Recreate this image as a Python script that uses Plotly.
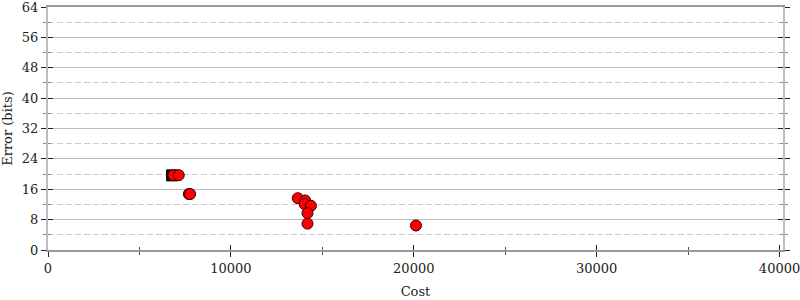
import plotly.graph_objects as go

# Data
square_cost = [6785]
square_err = [19.65]

circle_cost = [6860, 7150, 7700, 7770, 13660, 14060, 14030, 14375, 14190, 14190, 20120]
circle_err = [19.7, 19.7, 14.75, 14.75, 13.65, 13.05, 12.1, 11.65, 9.7, 6.95, 6.45]

x_ticks = [0, 10000, 20000, 30000, 40000]
y_ticks = [0, 8, 16, 24, 32, 40, 48, 56, 64]

FONT = "DejaVu Serif"
XR = [0, 40190]
YR = [0, 64]

fig = go.Figure()

fig.add_trace(go.Scatter(
    x=square_cost, y=square_err, mode="markers",
    marker=dict(symbol="square", size=11, color="#111111",
                line=dict(color="#000000", width=1)),
    showlegend=False, hoverinfo="skip"))

fig.add_trace(go.Scatter(
    x=circle_cost, y=circle_err, mode="markers",
    marker=dict(symbol="circle", size=11, color="#ff0000",
                line=dict(color="#330000", width=1)),
    showlegend=False, hoverinfo="skip"))

# invisible trace on overlay axes to carry inside ticks
fig.add_trace(go.Scatter(x=[None], y=[None], xaxis="x2", yaxis="y2",
                         showlegend=False, hoverinfo="skip"))

fig.update_layout(
    width=800, height=300,
    margin=dict(l=48, r=17, t=7, b=50, autoexpand=False),
    paper_bgcolor="white", plot_bgcolor="white",
    font=dict(family=FONT, size=13, color="#222222"),
    xaxis=dict(
        range=XR, tickvals=x_ticks, ticktext=[str(v) for v in x_ticks],
        showgrid=False, zeroline=False, automargin=False,
        ticklabeloverflow="allow",
        showline=True, linecolor="#9a9a9a", linewidth=2, mirror=True,
        ticks="outside", ticklen=5, tickwidth=1, tickcolor="#222222",
        minor=dict(tickvals=[5000, 15000, 25000, 35000], ticks="outside",
                   ticklen=3, tickcolor="#555555", showgrid=False),
        title=dict(text="Cost", font=dict(family=FONT, size=13), standoff=12),
        tickfont=dict(family=FONT, size=13),
    ),
    yaxis=dict(
        range=YR, tickvals=y_ticks, ticktext=[str(v) for v in y_ticks],
        showgrid=True, gridcolor="#bdbdbd", gridwidth=1, zeroline=False,
        automargin=False, ticklabeloverflow="allow",
        showline=True, linecolor="#bdbdbd", linewidth=2, mirror="ticks",
        ticks="outside", ticklen=5, tickwidth=1, tickcolor="#222222",
        minor=dict(tickvals=[4, 12, 20, 28, 36, 44, 52, 60], ticks="outside",
                   ticklen=3, tickcolor="#888888", showgrid=True,
                   gridcolor="#cccccc", griddash="6px,3px", gridwidth=1),
        title=dict(text="Error (bits)", font=dict(family=FONT, size=13), standoff=6),
        tickfont=dict(family=FONT, size=13),
    ),
    xaxis2=dict(
        overlaying="x", range=XR, tickvals=x_ticks, showticklabels=False,
        showgrid=False, zeroline=False, showline=False, automargin=False,
        ticks="inside", ticklen=5, tickwidth=1, tickcolor="#222222",
        minor=dict(tickvals=[5000, 15000, 25000, 35000], ticks="inside",
                   ticklen=3, tickcolor="#555555", showgrid=False),
        anchor="y2", side="bottom",
    ),
    yaxis2=dict(
        overlaying="y", range=YR, tickvals=y_ticks, showticklabels=False,
        showgrid=False, zeroline=False, showline=False, mirror="ticks",
        automargin=False,
        ticks="inside", ticklen=5, tickwidth=1, tickcolor="#222222",
        minor=dict(tickvals=[4, 12, 20, 28, 36, 44, 52, 60], ticks="inside",
                   ticklen=3, tickcolor="#888888", showgrid=False),
        anchor="x2", side="left",
    ),
)

fig.write_html("out.html")
